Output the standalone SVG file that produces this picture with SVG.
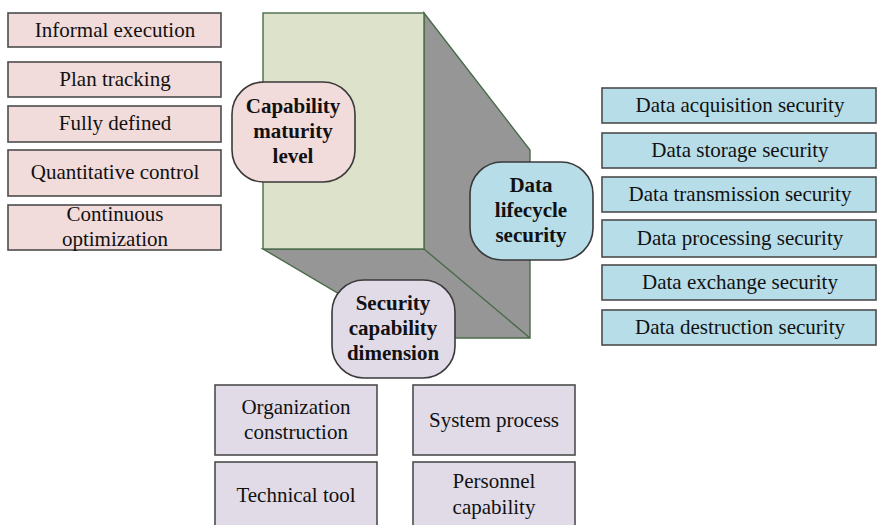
<svg xmlns="http://www.w3.org/2000/svg" width="878" height="525" viewBox="0 0 878 525">
  <style>
    .box { stroke: #4d4d4d; stroke-width: 1.6; }
    .pink { fill: #f2dcdb; }
    .blue { fill: #b7dde8; }
    .lav { fill: #e1dbe8; }
    .hub { stroke: #3a3a3a; stroke-width: 1.6; }
    text { font-family: "Liberation Serif", "Times New Roman", serif; font-size: 21px; fill: #111; text-anchor: middle; dominant-baseline: central; }
    .bold { font-weight: bold; }
  </style>
  <rect width="878" height="525" fill="#ffffff"/>

  <!-- extruded block -->
  <g id="block">
    <polygon points="424,13 530,150 530,338 414,338 263,249 424,249" fill="#969696" stroke="#4a6b4a" stroke-width="1.4"/>
    <line x1="424" y1="249" x2="530" y2="338" stroke="#4a6b4a" stroke-width="1.4"/>
    <rect x="263" y="13" width="161" height="236" fill="#dde2cb" stroke="#4a6b4a" stroke-width="1.4"/>
  </g>

  <!-- maturity levels -->
  <g id="lvl1"><rect class="box pink" x="8" y="13" width="213" height="34"/><text x="115" y="30">Informal execution</text></g>
  <g id="lvl2"><rect class="box pink" x="8" y="62" width="213" height="35"/><text x="115" y="79">Plan tracking</text></g>
  <g id="lvl3"><rect class="box pink" x="8" y="106" width="213" height="36"/><text x="115" y="123">Fully defined</text></g>
  <g id="lvl4"><rect class="box pink" x="8" y="150" width="213" height="46"/><text x="115" y="172">Quantitative control</text></g>
  <g id="lvl5"><rect class="box pink" x="8" y="205" width="213" height="45"/><text x="115" y="214">Continuous</text><text x="115" y="239">optimization</text></g>

  <!-- lifecycle stages -->
  <g id="life1"><rect class="box blue" x="602" y="88" width="274" height="35"/><text x="740" y="105">Data acquisition security</text></g>
  <g id="life2"><rect class="box blue" x="602" y="133" width="274" height="35"/><text x="740" y="150">Data storage security</text></g>
  <g id="life3"><rect class="box blue" x="602" y="177" width="274" height="35"/><text x="740" y="194">Data transmission security</text></g>
  <g id="life4"><rect class="box blue" x="602" y="220" width="274" height="37"/><text x="740" y="238">Data processing security</text></g>
  <g id="life5"><rect class="box blue" x="602" y="265" width="274" height="35"/><text x="740" y="282">Data exchange security</text></g>
  <g id="life6"><rect class="box blue" x="602" y="310" width="274" height="35"/><text x="740" y="327">Data destruction security</text></g>

  <!-- capability dimensions -->
  <g id="dim1"><rect class="box lav" x="215" y="385" width="162" height="70"/><text x="296" y="407">Organization</text><text x="296" y="432">construction</text></g>
  <g id="dim2"><rect class="box lav" x="413" y="385" width="162" height="70"/><text x="494" y="420">System process</text></g>
  <g id="dim3"><rect class="box lav" x="215" y="462" width="162" height="70"/><text x="296" y="495">Technical tool</text></g>
  <g id="dim4"><rect class="box lav" x="413" y="462" width="162" height="70"/><text x="494" y="481">Personnel</text><text x="494" y="507">capability</text></g>

  <!-- axis labels -->
  <g id="axis-maturity">
    <rect class="hub pink" x="232" y="82" width="123" height="100" rx="32" ry="32"/>
    <text class="bold" x="293" y="106">Capability</text>
    <text class="bold" x="293" y="131">maturity</text>
    <text class="bold" x="293" y="156">level</text>
  </g>
  <g id="axis-lifecycle">
    <rect class="hub blue" x="470" y="162" width="123" height="98" rx="32" ry="32"/>
    <text class="bold" x="531" y="185">Data</text>
    <text class="bold" x="531" y="210">lifecycle</text>
    <text class="bold" x="531" y="235">security</text>
  </g>
  <g id="axis-dimension">
    <rect class="hub lav" x="332" y="280" width="123" height="98" rx="32" ry="32"/>
    <text class="bold" x="393" y="303">Security</text>
    <text class="bold" x="393" y="328">capability</text>
    <text class="bold" x="393" y="353">dimension</text>
  </g>

  <g id="connectors"></g>
</svg>
